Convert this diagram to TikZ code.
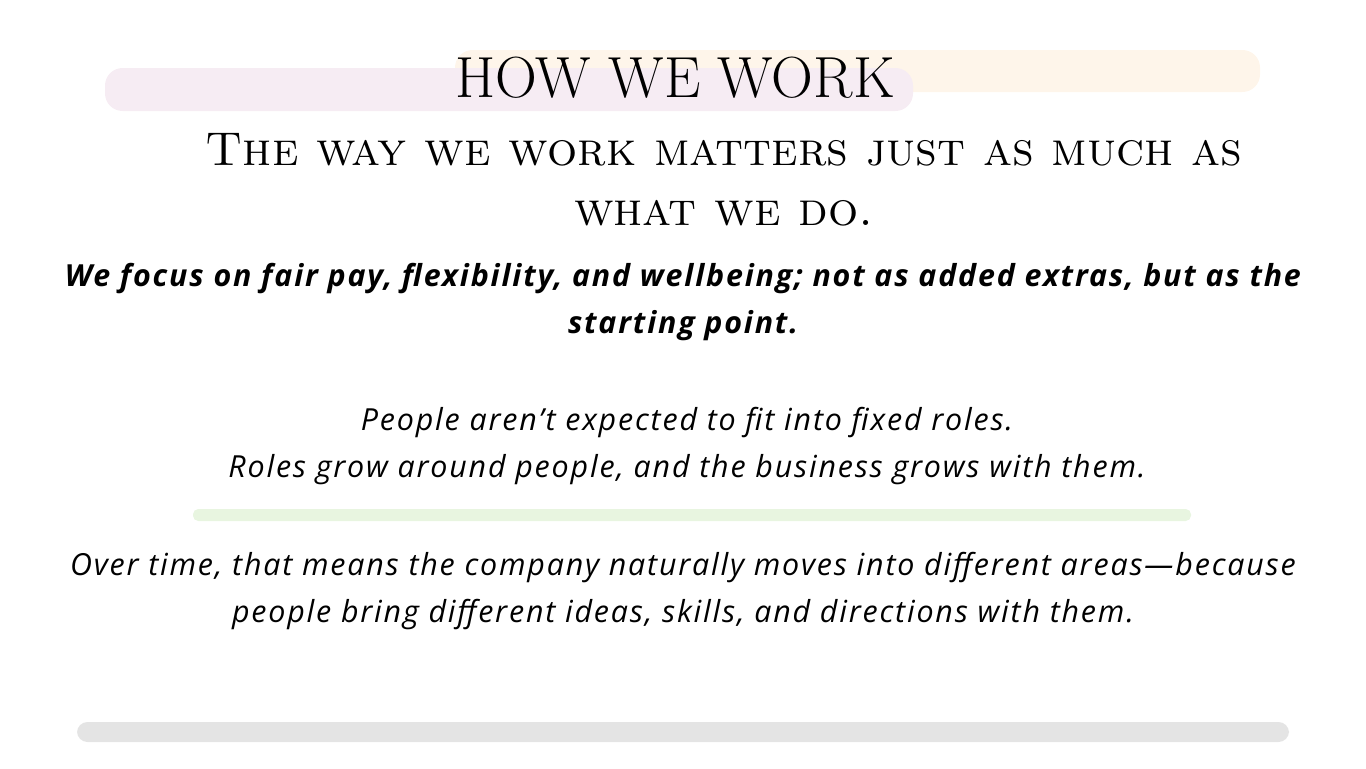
\documentclass[tikz,border=0pt]{standalone}
\usepackage{fontspec}
\setsansfont[LetterSpace=6]{Open Sans}
\usetikzlibrary{positioning}
\definecolor{barpink}{HTML}{F6ECF3}
\definecolor{barpeach}{HTML}{FEF5EA}
\definecolor{bargreen}{HTML}{E8F5E0}
\definecolor{bargrey}{HTML}{E4E4E4}
\begin{document}
\begin{tikzpicture}
[x=0.02cm,y=-0.02cm,
bar/.style ={rounded corners=10pt},
heading/.style ={font=\fontsize{33}{36}\selectfont, inner sep=0pt},
subhead/.style ={font=\fontsize{27}{34}\selectfont\scshape, align=center, inner sep=0pt},
body/.style ={font=\sffamily\itshape\fontsize{17.3}{27.3}\selectfont, align=center, inner sep=0pt}]
\useasboundingbox (0,0) rectangle (1366,768);
% background bars
\fill [bar, barpeach] (455,50) rectangle (1260,92);
\fill [bar, barpink] (105,68) rectangle (913,111);
\fill [bar, bargreen, rounded corners=3pt] (193,509) rectangle (1191,521);
\fill [bar, bargrey, rounded corners=6pt] (77,722) rectangle (1289,742);
% texts
\node [heading] (title) at (675,78) {HOW WE WORK};
\node [subhead] (tagline) at (724,180) {The way we work matters just as much as\\what we do.};
\node [body, font=\sffamily\bfseries\itshape\fontsize{17.3}{27.3}\selectfont] (focus) at (683,302)
  {We focus on fair pay, flexibility, and wellbeing; not as added extras, but as the\\starting point.};
\node [body] (roles) at (687,446)
  {People aren’t expected to fit into fixed roles.\\Roles grow around people, and the business grows with them.};
\node [body] (areas) at (683,591)
  {Over time, that means the company naturally moves into different areas—because\\people bring different ideas, skills, and directions with them.};
\end{tikzpicture}
\end{document}
